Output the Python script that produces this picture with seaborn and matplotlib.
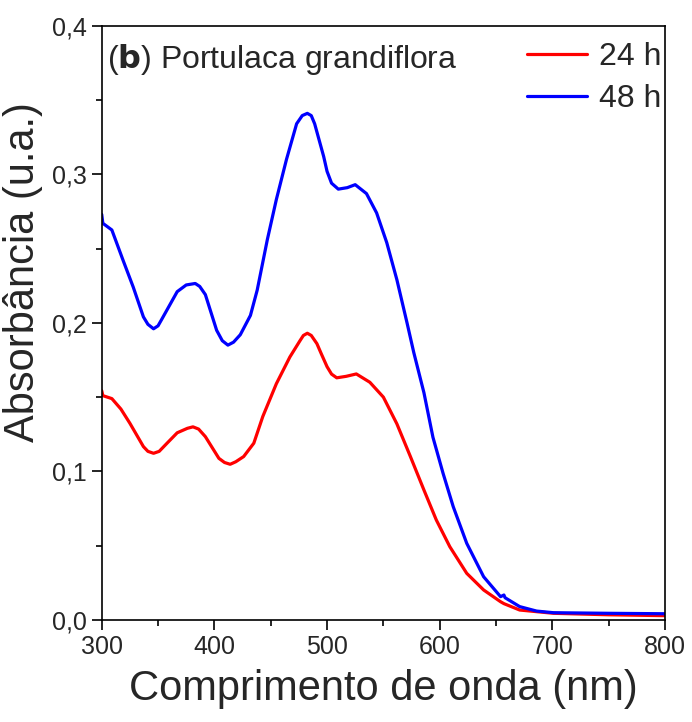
import matplotlib
matplotlib.use("Agg")
import matplotlib.pyplot as plt
import seaborn as sns
import pandas as pd
from matplotlib.ticker import MultipleLocator, FuncFormatter

# absorbance spectra
wl_24h = [300, 301, 309, 317, 325, 337, 341, 346, 351, 358, 367, 376, 381, 386,
          392, 404, 409, 414, 419, 426, 435, 443, 455, 467, 476, 479, 482.5, 486,
          491, 495, 500, 504, 508.6, 517, 526, 538, 550, 562, 574, 586, 597, 609,
          624, 639, 654, 657, 671, 701, 750, 800]
abs_24h = [0.1543, 0.151, 0.149, 0.142, 0.1324, 0.1167, 0.1135, 0.1122, 0.1135,
           0.119, 0.126, 0.129, 0.130, 0.1285, 0.1234, 0.1088, 0.106, 0.1048,
           0.1065, 0.110, 0.119, 0.137, 0.159, 0.177, 0.188, 0.1915, 0.193,
           0.1915, 0.186, 0.179, 0.1705, 0.1655, 0.163, 0.164, 0.1656, 0.160,
           0.150, 0.132, 0.110, 0.0875, 0.0673, 0.0493, 0.0314, 0.0202, 0.0123,
           0.0110, 0.0067, 0.0045, 0.0035, 0.0029]

wl_48h = [300, 301, 309, 319, 328, 337, 341, 346, 350, 353, 367, 375, 383, 387,
          392, 402, 407, 412, 417, 423, 432, 438, 447, 455, 464, 473, 478, 482.5,
          486, 489, 497, 500, 504, 510, 518, 525, 535, 544, 553, 562, 571, 577,
          586, 594, 603, 612, 624, 639, 654, 657, 658, 671, 686, 701, 750, 800]
abs_48h = [0.273, 0.267, 0.2625, 0.242, 0.224, 0.204, 0.199, 0.196, 0.198, 0.202,
           0.221, 0.2255, 0.2265, 0.2245, 0.219, 0.195, 0.188, 0.185, 0.187,
           0.192, 0.205, 0.222, 0.256, 0.283, 0.310, 0.334, 0.3395, 0.341,
           0.3395, 0.334, 0.312, 0.302, 0.294, 0.290, 0.291, 0.293, 0.287, 0.274,
           0.254, 0.229, 0.200, 0.180, 0.153, 0.123, 0.0987, 0.0763, 0.0516,
           0.0291, 0.0157, 0.0168, 0.0150, 0.009, 0.006, 0.0049, 0.0045, 0.0042]

df = pd.concat([
    pd.DataFrame({"wl": wl_24h, "A": abs_24h, "t": "24 h"}),
    pd.DataFrame({"wl": wl_48h, "A": abs_48h, "t": "48 h"}),
])

sns.set_style("ticks")
plt.rcParams["font.family"] = ["Liberation Sans", "DejaVu Sans"]

fig = plt.figure(figsize=(6.92, 7.22), dpi=100)
ax = fig.add_axes([0.147, 0.1413, 0.814, 0.8231])

sns.lineplot(data=df, x="wl", y="A", hue="t", palette={"24 h": "#ff0000", "48 h": "#0000ff"},
             linewidth=2.3, sort=False, estimator=None, ax=ax)
for ln in ax.get_lines():
    ln.set_solid_joinstyle("round")

ax.set_xlim(300, 800)
ax.set_ylim(0, 0.4)
ax.xaxis.set_major_locator(MultipleLocator(100))
ax.xaxis.set_minor_locator(MultipleLocator(50))
ax.yaxis.set_major_locator(MultipleLocator(0.1))
ax.yaxis.set_minor_locator(MultipleLocator(0.05))
ax.yaxis.set_major_formatter(FuncFormatter(lambda v, p: f"{v:.1f}".replace(".", ",")))
ax.tick_params(which="major", direction="out", length=7, width=1.2, labelsize=18, color="black", pad=4)
ax.tick_params(which="minor", direction="out", length=4, width=1.2, color="black")
for s in ax.spines.values():
    s.set_linewidth(1.2)
    s.set_color("black")

ax.set_xlabel("Comprimento de onda (nm)", fontsize=30, labelpad=7)
ax.set_ylabel("Absorbância (u.a.)", fontsize=30)
ax.yaxis.set_label_coords(-0.105, 0.5856)

ax.text(0.0094, 0.928, r"($\bf{b}$) Portulaca grandiflora", transform=ax.transAxes,
        fontsize=23, va="baseline", ha="left")

ax.legend(loc="upper right", bbox_to_anchor=(0.993, 0.972), frameon=False, fontsize=23,
          handlelength=1.9, handletextpad=0.35, labelspacing=0.38, borderpad=0,
          borderaxespad=0, title=None)

fig.savefig("out.png", dpi=100)
